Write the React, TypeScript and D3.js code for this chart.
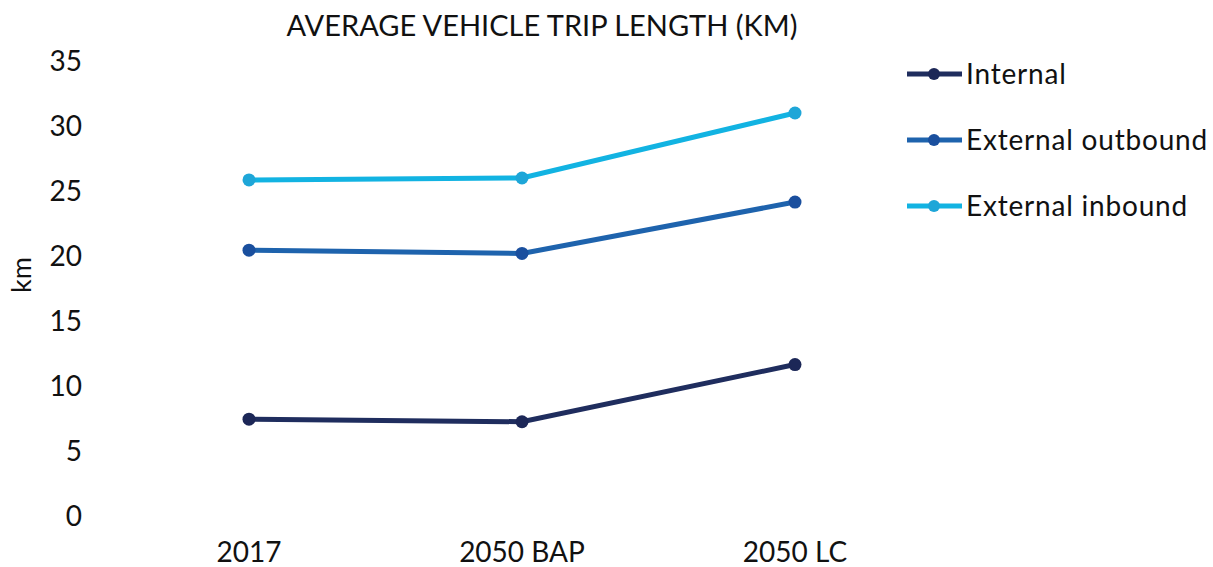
import React from 'react'
import * as d3 from 'd3'

// scenario labels along the x axis
const categories = ['2017', '2050 BAP', '2050 LC']

// average trip length in km
const internal = [7.45, 7.25, 11.65]
const externalOutbound = [20.45, 20.2, 24.15]
const externalInbound = [25.85, 26.0, 31.0]

const seriesNames = ['Internal', 'External outbound', 'External inbound']
const lineColors = ['#1f2d5e', '#1e63ad', '#12b3e2']
const dotColors = ['#1c2757', '#1a4f9e', '#1ea6d8']

const yTicks = [0, 5, 10, 15, 20, 25, 30, 35]

const FONT = 'Lato, "Noto Sans", sans-serif'

const App = () => {
  const width = 1213
  const height = 567

  const x = d3.scalePoint().domain(categories).range([249, 795])
  const y = d3.scaleLinear().domain([0, 35]).range([516, 61])

  const line = d3
    .line<number>()
    .x((d, i) => x(categories[i]) as number)
    .y(d => y(d))

  const series = [internal, externalOutbound, externalInbound]

  return (
    <svg
      width={width}
      height={height}
      style={{position: 'absolute', left: 0, top: 0, background: '#fff'}}
      fontFamily={FONT}
    >
      <text x={542} y={36} textAnchor="middle" fontSize={29} fill="#111">
        AVERAGE VEHICLE TRIP LENGTH (KM)
      </text>

      {/* y ticks */}
      {yTicks.map(t => (
        <text key={t} x={82} y={y(t)} dy="0.35em" textAnchor="end" fontSize={28} fill="#111">
          {t}
        </text>
      ))}
      <text
        transform={`translate(31,275) rotate(-90)`}
        textAnchor="middle"
        fontSize={27}
        fill="#111"
      >
        km
      </text>

      {/* x labels */}
      {categories.map(c => (
        <text key={c} x={x(c)} y={562} textAnchor="middle" fontSize={28} fill="#111">
          {c}
        </text>
      ))}

      {series.map((s, k) => (
        <g key={seriesNames[k]}>
          <path d={line(s) || ''} fill="none" stroke={lineColors[k]} strokeWidth={5} />
          {s.map((v, i) => (
            <circle key={i} cx={x(categories[i])} cy={y(v)} r={6.5} fill={dotColors[k]} />
          ))}
        </g>
      ))}

      {/* legend */}
      {seriesNames.map((name, k) => {
        const ly = 74 + k * 66
        return (
          <g key={name}>
            <line x1={907} x2={962} y1={ly} y2={ly} stroke={lineColors[k]} strokeWidth={5} />
            <circle cx={934} cy={ly} r={6} fill={dotColors[k]} />
            <text x={966} y={ly} dy="0.35em" fontSize={28} letterSpacing={0.8} fill="#111">
              {name}
            </text>
          </g>
        )
      })}
    </svg>
  )
}

export default App
